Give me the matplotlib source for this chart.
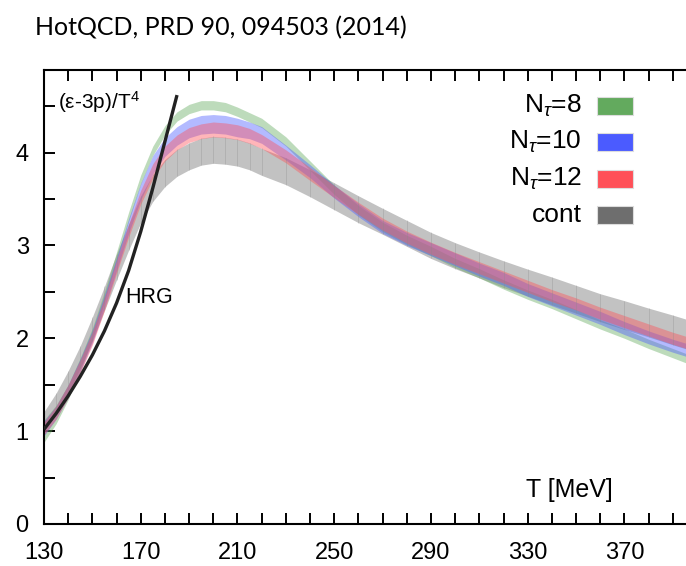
import numpy as np
import matplotlib
matplotlib.use("Agg")
import matplotlib.pyplot as plt
from matplotlib.patches import Rectangle
from matplotlib.ticker import FixedLocator, NullFormatter

plt.rcParams['font.family'] = ['Liberation Sans', 'DejaVu Sans']
plt.rcParams['mathtext.fontset'] = 'custom'
plt.rcParams['mathtext.rm'] = 'Liberation Sans'
plt.rcParams['mathtext.it'] = 'Liberation Sans:italic'

# ---------------- data ----------------
T = [130, 135, 140, 145, 150, 155, 160, 165, 170, 175, 180, 185, 190, 195,
     200, 205, 210, 215, 220, 230, 240, 250, 260, 270, 280, 290, 300, 310,
     320, 330, 340, 350, 360, 370, 380, 390, 400]

# continuum (grey) band: centre and half width
cont_c = [1.10, 1.30, 1.53, 1.80, 2.10, 2.43, 2.77, 3.09, 3.39, 3.62, 3.78, 3.89, 3.96, 4.01,
          4.03, 4.02, 4.00, 3.96, 3.90, 3.80, 3.67, 3.53, 3.39, 3.26, 3.13, 3.00, 2.89, 2.79,
          2.69, 2.60, 2.51, 2.42, 2.33, 2.25, 2.17, 2.09, 2.01]
cont_w = [0.11, 0.11, 0.12, 0.12, 0.13, 0.13, 0.14, 0.14, 0.145, 0.145, 0.145, 0.145, 0.145, 0.145,
          0.145, 0.145, 0.145, 0.145, 0.145, 0.145, 0.145, 0.145, 0.145, 0.14, 0.14, 0.14, 0.14, 0.14,
          0.145, 0.145, 0.15, 0.15, 0.15, 0.155, 0.155, 0.16, 0.16]

# N_tau = 8 (green)
nt8_c = [1.00, 1.18, 1.42, 1.72, 2.05, 2.45, 2.88, 3.31, 3.71, 4.02, 4.24, 4.39, 4.47, 4.51,
         4.51, 4.49, 4.44, 4.38, 4.32, 4.12, 3.86, 3.60, 3.38, 3.20, 3.06, 2.94, 2.81, 2.70,
         2.58, 2.47, 2.37, 2.26, 2.15, 2.05, 1.94, 1.84, 1.74]
nt8_w = [0.12, 0.10, 0.08, 0.07, 0.06, 0.055, 0.05, 0.05, 0.05, 0.05, 0.05, 0.05, 0.05, 0.05,
         0.05, 0.05, 0.05, 0.05, 0.05, 0.05, 0.05, 0.05, 0.05, 0.05, 0.05, 0.05, 0.05, 0.05,
         0.05, 0.05, 0.05, 0.05, 0.05, 0.05, 0.05, 0.05, 0.05]

# N_tau = 10 (blue)
nt10_c = [1.03, 1.20, 1.43, 1.71, 2.02, 2.40, 2.80, 3.21, 3.58, 3.87, 4.06, 4.18, 4.26, 4.30,
          4.31, 4.30, 4.27, 4.24, 4.19, 4.00, 3.80, 3.58, 3.38, 3.20, 3.07, 2.96, 2.85, 2.74,
          2.64, 2.52, 2.42, 2.32, 2.22, 2.11, 2.01, 1.92, 1.84]
nt10_w = [0.08, 0.07, 0.07, 0.07, 0.07, 0.07, 0.07, 0.08, 0.09, 0.10, 0.10, 0.10, 0.10, 0.10,
          0.10, 0.10, 0.10, 0.09, 0.09, 0.08, 0.07, 0.07, 0.07, 0.07, 0.07, 0.07, 0.07, 0.07,
          0.07, 0.07, 0.07, 0.07, 0.07, 0.07, 0.07, 0.07, 0.07]

# N_tau = 12 (red)
nt12_c = [1.03, 1.20, 1.43, 1.70, 2.00, 2.37, 2.77, 3.16, 3.52, 3.80, 3.99, 4.11, 4.19, 4.23,
          4.25, 4.24, 4.22, 4.18, 4.12, 3.96, 3.77, 3.58, 3.40, 3.23, 3.09, 2.97, 2.86, 2.76,
          2.66, 2.56, 2.46, 2.37, 2.27, 2.18, 2.09, 2.00, 1.92]
nt12_w = [0.07, 0.07, 0.07, 0.07, 0.07, 0.07, 0.07, 0.07, 0.075, 0.08, 0.08, 0.08, 0.08, 0.08,
          0.08, 0.08, 0.08, 0.08, 0.075, 0.07, 0.07, 0.065, 0.065, 0.065, 0.065, 0.065, 0.065, 0.065,
          0.065, 0.065, 0.065, 0.065, 0.065, 0.065, 0.065, 0.065, 0.065]

# HRG curve
hrg_T = [130, 135, 140, 145, 150, 155, 160, 165, 170, 175, 180, 185]
hrg_v = [1.02, 1.19, 1.38, 1.59, 1.82, 2.08, 2.38, 2.73, 3.15, 3.62, 4.12, 4.62]

labels = [r'N$_\tau$=8', r'N$_\tau$=10', r'N$_\tau$=12', 'cont']
colors = ['#63aa5e', '#4b5bff', '#ff5058', '#6e6e6e']

xtick_labels = [130, 170, 210, 250, 290, 330, 370]
ytick_labels = [0, 1, 2, 3, 4]

# ---------------- figure ----------------
W, H = 686, 566
fig = plt.figure(figsize=(W / 100, H / 100), dpi=100)
ax = fig.add_axes([44 / W, 42 / H, 653 / W, 454 / H])
ax.set_xlim(130, 400)
ax.set_ylim(0, 4.89)

Ta = np.array(T)
bands = [(cont_c, cont_w, colors[3]), (nt8_c, nt8_w, colors[0]),
         (nt10_c, nt10_w, colors[1]), (nt12_c, nt12_w, colors[2])]
for c, w, col in bands:
    c = np.array(c); w = np.array(w)
    ax.fill_between(Ta, c - w, c + w, color=col, alpha=0.42, lw=0, zorder=2)

# stripes in the continuum band
cc = np.array(cont_c); cw = np.array(cont_w)
ax.vlines(Ta[1:-1], (cc - cw)[1:-1], (cc + cw)[1:-1], color='#8a8a8a', lw=0.6, alpha=0.35, zorder=2.1)

ax.plot(hrg_T, hrg_v, color='#222222', lw=2.4, zorder=4, solid_capstyle='butt')

# axes styling
for s in ax.spines.values():
    s.set_linewidth(1.5)
ax.xaxis.set_major_locator(FixedLocator(xtick_labels))
ax.xaxis.set_minor_locator(FixedLocator(np.arange(130, 401, 10)))
ax.yaxis.set_major_locator(FixedLocator(ytick_labels))
ax.yaxis.set_minor_locator(FixedLocator(np.arange(0, 4.9, 0.5)))
ax.xaxis.set_minor_formatter(NullFormatter())
ax.yaxis.set_minor_formatter(NullFormatter())
ax.tick_params(which='both', direction='in', top=True, right=True, length=8, width=1.4)
ax.tick_params(axis='x', which='major', labelsize=17, pad=13)
ax.tick_params(axis='y', which='major', labelsize=17, pad=11)

# texts
ax.text(163.5, 2.44, 'HRG', fontsize=15.5, ha='left', va='center', zorder=5)
ax.text(135.8, 4.55, r'(ε-3p)/T$^4$', fontsize=15, ha='left', va='center', zorder=5)
ax.text(329.5, 0.37, 'T [MeV]', fontsize=18, ha='left', va='center')

# legend (manual)
def ax_frac(px, py):
    return (px - 44) / 653, (524 - py) / 454

rows_y = [106, 142, 179, 215]
for lab, col, ry in zip(labels, colors, rows_y):
    tx, ty = ax_frac(582, ry)
    ax.text(tx, ty, lab, transform=ax.transAxes, fontsize=19, ha='right', va='center')
    bx, by = ax_frac(597, ry + 9)
    bw = 36 / 653
    bh = 18 / 454
    ax.add_patch(Rectangle((bx, by), bw, bh, transform=ax.transAxes,
                           facecolor=col, edgecolor='#dddddd', lw=0.8, zorder=6))

fig.text(35 / W, 1 - 28 / H, 'HotQCD, PRD 90, 094503 (2014)', fontsize=18,
         family=['Lato', 'DejaVu Sans'], ha='left', va='center')

fig.savefig('out.png', dpi=100)
